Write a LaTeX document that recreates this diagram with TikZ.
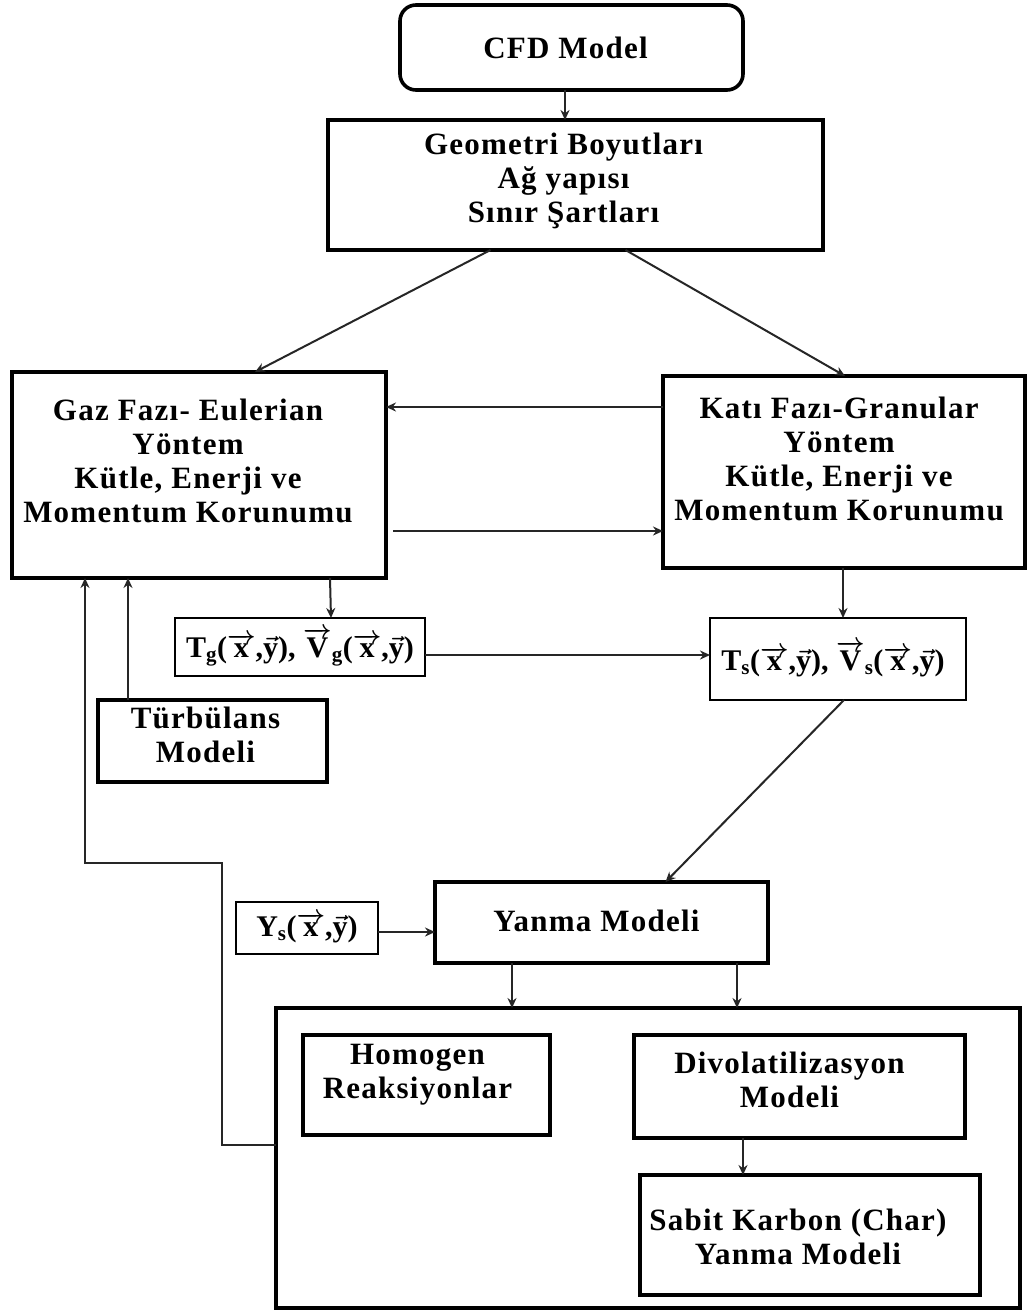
\documentclass[tikz,border=0pt]{standalone}
\usepackage{amsmath}
\usepackage{fontspec}
\setmainfont{Liberation Serif}
\newfontfamily\boxfont[LetterSpace=4]{Liberation Serif}
\usetikzlibrary{arrows.meta}
\tikzset{
  thickbox/.style={draw=black, line width=3.6pt, inner sep=0pt, outer sep=0pt},
  thinbox/.style={draw=black, line width=1.8pt, inner sep=0pt, outer sep=0pt},
  txt/.style={inner sep=0pt, align=center, font=\boxfont\bfseries\fontsize{31}{34}\selectfont},
  mtxt/.style={inner sep=0pt, align=center, font=\fontsize{30}{32}\selectfont\boldmath},
  conn/.style={draw=black!85, line width=2pt},
  arr/.style={conn, -{Stealth[length=10pt,width=9pt]}}
}
\newcommand{\B}[1]{\textbf{#1}}
\newcommand{\vx}{\overrightarrow{\B{x}}}
\newcommand{\vy}{\vec{\B{y}}}
\newcommand{\vV}{\overrightarrow{\B{V}}}
\newcommand{\xy}{\B{(}\vx\B{,}\vy\B{)}}
\begin{document}
\begin{tikzpicture}[x=1pt,y=-1pt]
\useasboundingbox (0,0) rectangle (1033,1316);
\fill[white] (0,0) rectangle (1033,1316);

% boxes
\node[thickbox, rounded corners=16pt, minimum width=343pt, minimum height=85pt] (cfd) at (571.5,47.5) {};
\node[thickbox, minimum width=495pt, minimum height=130pt] (geo) at (575.5,185) {};
\node[thickbox, minimum width=374pt, minimum height=206pt] (gaz) at (199,475) {};
\node[thickbox, minimum width=362pt, minimum height=192pt] (kati) at (844,472) {};
\node[thinbox, minimum width=250pt, minimum height=58pt] (tg) at (300,647) {};
\node[thinbox, minimum width=256pt, minimum height=82pt] (ts) at (838,659) {};
\node[thickbox, minimum width=229pt, minimum height=82pt] (turb) at (212.5,741) {};
\node[thickbox, minimum width=333pt, minimum height=81pt] (yanma) at (601.5,922.5) {};
\node[thinbox, minimum width=142pt, minimum height=52pt] (ys) at (307,928) {};
\node[thickbox, minimum width=744pt, minimum height=300pt] (outer) at (648,1158) {};
\node[thickbox, minimum width=247pt, minimum height=100pt] (homo) at (426.5,1085) {};
\node[thickbox, minimum width=331pt, minimum height=103pt] (div) at (799.5,1086.5) {};
\node[thickbox, minimum width=340pt, minimum height=120pt] (sabit) at (810,1235) {};

% texts
\node[txt] (cfdt) at ([xshift=-6pt]cfd.center) {CFD Model};
\node[txt] (geot) at ([xshift=-12pt,yshift=4pt]geo.center) {Geometri Boyutları\\Ağ yapısı\\Sınır Şartları};
\node[txt] (gazt) at ([xshift=-11pt,yshift=14pt]gaz.center) {Gaz Fazı- Eulerian\\Yöntem\\Kütle, Enerji ve\\Momentum Korunumu};
\node[txt] (katit) at ([xshift=-5pt,yshift=13pt]kati.center) {Katı Fazı-Granular\\Yöntem\\Kütle, Enerji ve\\Momentum Korunumu};
\node[mtxt] (tgt) at (tg.center) {$\B{T}_{\B{g}}\xy\B{,}\ \vV_{\B{g}}\xy$};
\node[mtxt] (tst) at ([xshift=-5pt]ts.center) {$\B{T}_{\B{s}}\xy\B{,}\ \vV_{\B{s}}\xy$};
\node[txt] (turbt) at ([xshift=-7pt,yshift=6pt]turb.center) {Türbülans\\Modeli};
\node[txt] (yanmat) at ([xshift=-5pt,yshift=2pt]yanma.center) {Yanma Modeli};
\node[mtxt] (yst) at (ys.center) {$\B{Y}_{\B{s}}\xy$};
\node[txt] (homot) at ([xshift=-9pt,yshift=10pt]homo.center) {Homogen\\Reaksiyonlar};
\node[txt] (divt) at ([xshift=-10pt,yshift=7pt]div.center) {Divolatilizasyon\\Modeli};
\node[txt] (sabitt) at ([xshift=-12pt,yshift=-2pt]sabit.center) {Sabit Karbon (Char)\\Yanma Modeli};

% helper coordinates
\coordinate (k1) at ([yshift=65pt]kati.west);
\coordinate (g1) at ([yshift=-56pt,xshift=7pt]gaz.east);
\coordinate (t1) at ([yshift=-8pt]tg.east);
\coordinate (y1) at ([yshift=-4pt]ys.east);
\coordinate (fb1) at (222,1145);
\coordinate (fb2) at (222,863);
\coordinate (fb3) at (85,863);

% connectors
\draw[arr] ([xshift=-6.5pt]cfd.south) -- ([xshift=-10.5pt]geo.north);
\draw[arr] ([xshift=-85pt]geo.south) -- ([xshift=56pt]gaz.north);
\draw[arr] ([xshift=50pt]geo.south) -- ([xshift=1pt]kati.north);
\draw[arr] (k1) -- (k1 -| gaz.east);
\draw[arr] (g1) -- (g1 -| kati.west);
\draw[arr] ([xshift=131pt]gaz.south) -- ([xshift=31pt]tg.north);
\draw[arr] (t1) -- (t1 -| ts.west);
\draw[arr] ([xshift=-1pt]kati.south) -- ([xshift=5pt]ts.north);
\draw[arr] ([xshift=-84.5pt]turb.north) -- ([xshift=-71pt]gaz.south);
\draw[arr] (outer.west |- fb1) -- (fb1) -- (fb2) -- (fb3) -- (fb3 |- gaz.south);
\draw[arr] ([xshift=6pt]ts.south) -- ([xshift=64pt]yanma.north);
\draw[arr] (y1) -- (y1 -| yanma.west);
\draw[arr] ([xshift=-89.5pt]yanma.south) -- ([xshift=-89.5pt]yanma.south |- outer.north);
\draw[arr] ([xshift=135.5pt]yanma.south) -- ([xshift=135.5pt]yanma.south |- outer.north);
\draw[arr] ([xshift=-56.5pt]div.south) -- ([xshift=-56.5pt]div.south |- sabit.north);
\end{tikzpicture}
\end{document}
